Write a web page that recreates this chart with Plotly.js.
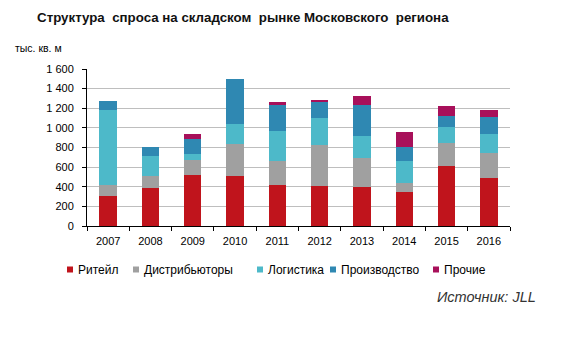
<!DOCTYPE html>
<html><head><meta charset="utf-8">
<script src="https://cdn.plot.ly/plotly-3.0.1.min.js"></script>
<style>body{margin:0;background:#fff}#c{width:566px;height:338px}</style>
</head><body><div id="c"></div>
<script>
const years = ['2007','2008','2009','2010','2011','2012','2013','2014','2015','2016'];
const retail = [310, 389, 522, 512, 419, 409, 396, 348, 610, 488];
const distrib = [103, 119, 150, 323, 239, 413, 300, 95, 236, 259];
const logistics = [770, 205, 61, 208, 314, 279, 221, 219, 163, 191];
const production = [89, 95, 154, 454, 259, 167, 321, 139, 109, 170];
const other = [0, 0, 47, 3, 34, 14, 89, 157, 103, 72];
const names = ['Ритейл','Дистрибьюторы','Логистика','Производство','Прочие'];
const colors = ['#C0141C','#A0A0A0','#4DB9C9','#2F88B2','#A8105A'];
const series = [retail, distrib, logistics, production, other];
const data = series.map((s,i)=>({type:'bar', x:years, y:s, name:names[i], marker:{color:colors[i], line:{width:0}}, width:0.41}));

// legend drawn as small squares + labels (pixel positions converted to paper coords)
const L = 87, T = 69, PW = 423, PH = 157;
const px = v => (v - L) / PW, py = v => (T + PH - v) / PH;
const legX = [67, 133, 257, 330, 433];
const legY = 269.5;
const shapes = legX.map((x,i)=>({type:'rect', xref:'paper', yref:'paper', x0:px(x), x1:px(x+6), y0:py(legY+3), y1:py(legY-3), fillcolor:colors[i], line:{width:0}}));
const legAnn = legX.map((x,i)=>({text:names[i], xref:'paper', yref:'paper', x:px(x+9), xanchor:'left', y:py(legY), yanchor:'middle', showarrow:false, font:{size:12, color:'#000'}}));

const layout = {
  width:566, height:338, barmode:'stack', showlegend:false,
  margin:{l:87, r:56, t:69, b:112}, paper_bgcolor:'#fff', plot_bgcolor:'#fff',
  font:{family:'Liberation Sans, Arial, sans-serif', size:11, color:'#000'},
  separators:', ',
  title:{text:'Структура  спроса на складском  рынке Московского  региона', x:0.429, xanchor:'center', y:0.95, yanchor:'middle', font:{size:13.3, family:'Liberation Sans, Arial', weight:'bold', color:'#111'}},
  xaxis:{type:'category', tickson:'boundaries', ticks:'outside', ticklen:4, tickcolor:'#000', showline:true, linecolor:'#000', linewidth:1, showgrid:false, tickfont:{size:11}, ticklabelstandoff:5},
  yaxis:{range:[0,1600], dtick:200, separatethousands:true, tickformat:',d', ticks:'outside', ticklen:4, tickcolor:'#000', showline:true, linecolor:'#000', gridcolor:'#BEBEBE', gridwidth:1, zeroline:false, tickfont:{size:11}, ticklabelstandoff:6},
  shapes: shapes,
  annotations:[
    {text:'тыс. кв. м', xref:'paper', yref:'paper', x:px(13), xanchor:'left', y:py(48), yanchor:'middle', showarrow:false, font:{size:10.5}},
    {text:'<i>Источник: JLL</i>', xref:'paper', yref:'paper', x:px(538), xanchor:'right', y:py(297), yanchor:'middle', showarrow:false, font:{size:14.5, color:'#333'}}
  ].concat(legAnn)
};
Plotly.newPlot('c', data, layout, {displayModeBar:false, staticPlot:true});
</script></body></html>
